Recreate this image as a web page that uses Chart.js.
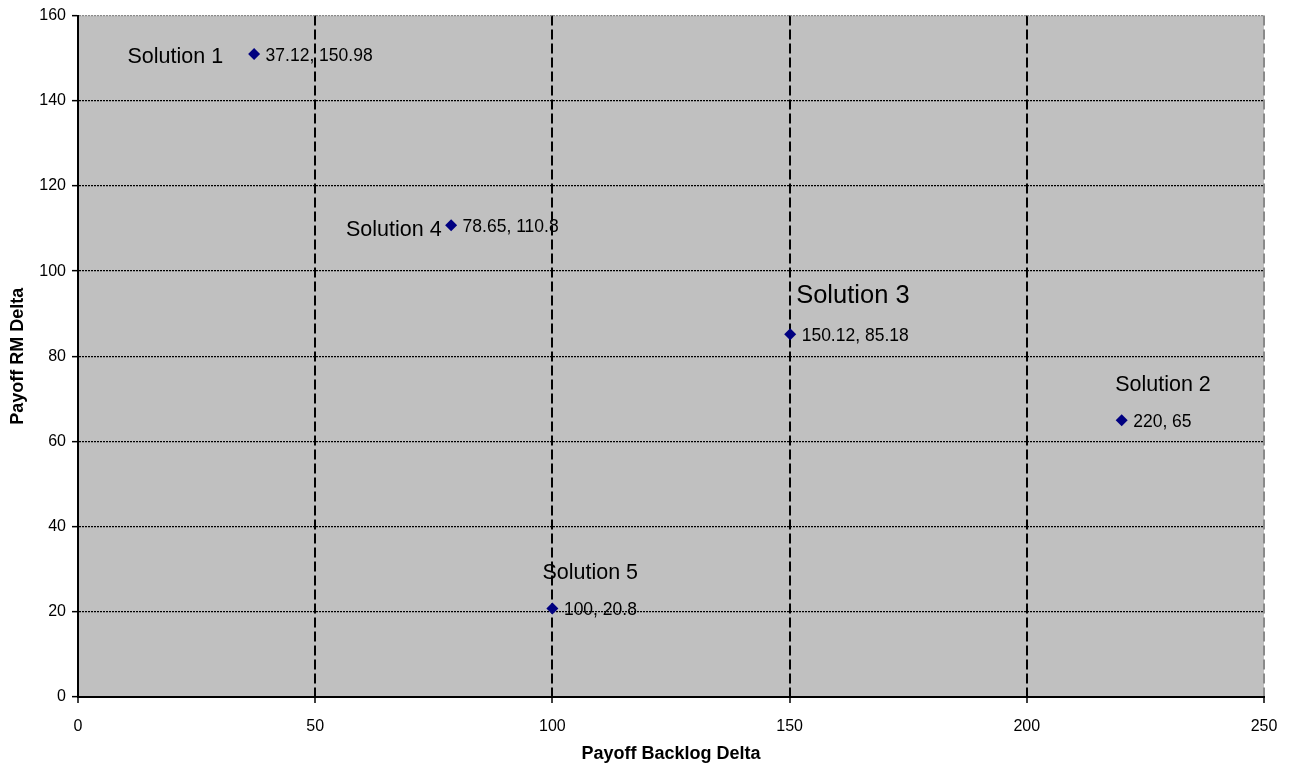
<!DOCTYPE html>
<html>
<head>
<meta charset="utf-8">
<script src="https://cdn.jsdelivr.net/npm/chart.js@4/dist/chart.umd.min.js"></script>
<style>
  html, body { margin: 0; padding: 0; background: #ffffff; }
  canvas { display: block; }
</style>
</head>
<body>
<canvas id="payoffChart" width="1292" height="767"></canvas>
<script>
// Payoff deltas for each candidate solution
const solutionNames = ['Solution 1', 'Solution 2', 'Solution 3', 'Solution 4', 'Solution 5'];
const backlogDelta = [37.12, 220, 150.12, 78.65, 100];
const rmDelta = [150.98, 65, 85.18, 110.8, 20.8];

// Axis tick values
const xTickValues = [0, 50, 100, 150, 200, 250];
const yTickValues = [0, 20, 40, 60, 80, 100, 120, 140, 160];

const FONT = '"Liberation Sans", Arial, Helvetica, sans-serif';

// Where each solution's name sits relative to its marker
const namePlacement = [
  { dx: -31,  dy: 3.5,  align: 'right', size: 21.5 },
  { dx: -6.5, dy: -35,  align: 'left',  size: 21.5 },
  { dx: 6,    dy: -38,  align: 'left',  size: 25.5 },
  { dx: -9.5, dy: 4.5,  align: 'right', size: 21.5 },
  { dx: -10,  dy: -35,  align: 'left',  size: 21.5 }
];

// Grey plot background
const plotBackground = {
  id: 'plotBackground',
  beforeDraw(chart) {
    const { ctx, chartArea: a } = chart;
    ctx.save();
    ctx.fillStyle = '#c0c0c0';
    ctx.fillRect(a.left, a.top, a.right - a.left, a.bottom - a.top);
    ctx.restore();
  }
};

// Value and name labels next to every marker
const pointLabels = {
  id: 'pointLabels',
  afterDatasetsDraw(chart) {
    const ctx = chart.ctx;
    const meta = chart.getDatasetMeta(0);
    meta.data.forEach((pt, i) => {
      const x = pt.x, y = pt.y;
      ctx.save();
      ctx.fillStyle = '#000000';
      ctx.textBaseline = 'middle';
      ctx.textAlign = 'left';
      ctx.font = '17.5px ' + FONT;
      ctx.fillText(backlogDelta[i] + ', ' + rmDelta[i], x + 11.5, y + 2);
      const p = namePlacement[i];
      ctx.font = p.size + 'px ' + FONT;
      ctx.textAlign = p.align;
      ctx.fillText(solutionNames[i], x + p.dx, y + p.dy);
      ctx.restore();
    });
  }
};

const points = backlogDelta.map((x, i) => ({ x: x, y: rmDelta[i] }));

new Chart(document.getElementById('payoffChart'), {
  type: 'scatter',
  data: {
    datasets: [{
      label: 'Solutions',
      data: points,
      pointStyle: 'rectRot',
      pointRadius: 6,
      pointHoverRadius: 6,
      pointBackgroundColor: '#000080',
      pointBorderColor: '#000080',
      pointBorderWidth: 0
    }]
  },
  options: {
    responsive: false,
    animation: false,
    events: [],
    layout: { padding: { top: 15, right: 28, left: 0, bottom: 0 } },
    plugins: {
      legend: { display: false },
      tooltip: { enabled: false }
    },
    scales: {
      x: {
        type: 'linear',
        min: 0,
        max: 250,
        afterBuildTicks: s => { s.ticks = xTickValues.map(v => ({ value: v })); },
        afterFit: s => { s.height = 70; },
        grid: {
          color: c => (c.tick && c.tick.value === 250) ? '#8a8a8a' : '#000000',
          lineWidth: 2,
          tickColor: '#000000',
          tickLength: 6,
          tickWidth: 1.5
        },
        border: { display: true, color: '#000000', width: 2, dash: [10, 4] },
        ticks: {
          color: '#000000',
          font: { family: FONT, size: 16 },
          padding: 14,
          maxRotation: 0
        },
        title: {
          display: true,
          text: 'Payoff Backlog Delta',
          color: '#000000',
          font: { family: FONT, size: 18, weight: 'bold' },
          padding: { top: 0, bottom: 2 }
        }
      },
      y: {
        type: 'linear',
        min: 0,
        max: 160,
        afterBuildTicks: s => { s.ticks = yTickValues.map(v => ({ value: v })); },
        afterFit: s => { s.width = 78; },
        grid: {
          color: c => (c.tick && c.tick.value === 160) ? '#8a8a8a' : '#000000',
          lineWidth: 1.3,
          tickColor: '#000000',
          tickLength: 6,
          tickWidth: 1.5
        },
        border: { display: true, color: '#000000', width: 2, dash: [2, 1] },
        ticks: {
          color: '#000000',
          font: { family: FONT, size: 16 },
          padding: 6
        },
        title: {
          display: true,
          text: 'Payoff RM Delta',
          color: '#000000',
          font: { family: FONT, size: 18, weight: 'bold' },
          padding: { top: 7, bottom: 0 }
        }
      }
    }
  },
  plugins: [plotBackground, pointLabels]
});
</script>
</body>
</html>
